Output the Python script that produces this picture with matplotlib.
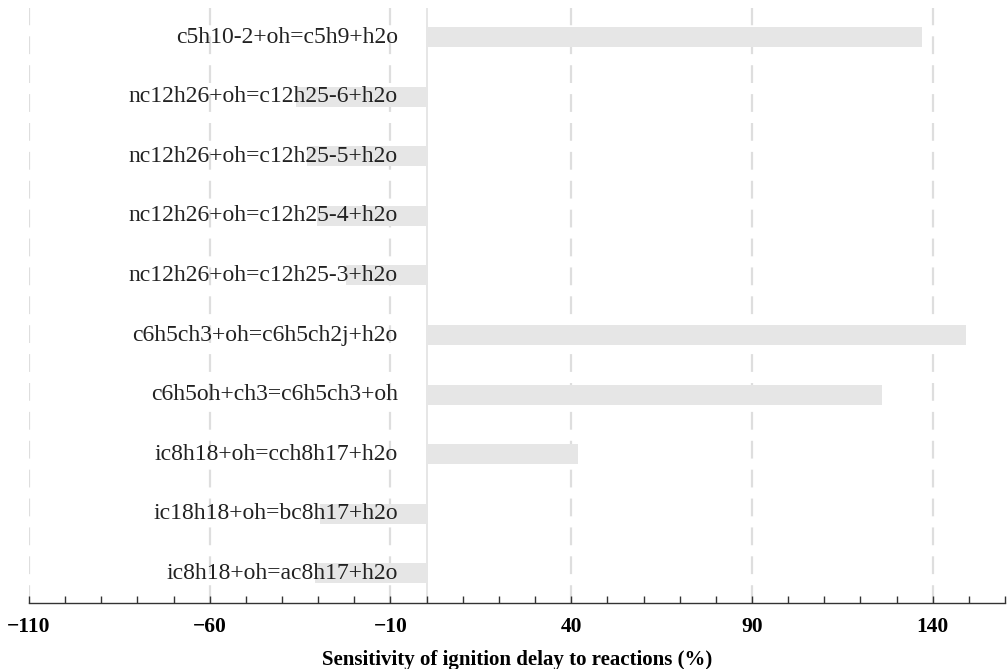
import matplotlib
matplotlib.use("Agg")
import matplotlib.pyplot as plt
import numpy as np

reactions = [
    "ic8h18+oh=ac8h17+h2o",
    "ic18h18+oh=bc8h17+h2o",
    "ic8h18+oh=cch8h17+h2o",
    "c6h5oh+ch3=c6h5ch3+oh",
    "c6h5ch3+oh=c6h5ch2j+h2o",
    "nc12h26+oh=c12h25-3+h2o",
    "nc12h26+oh=c12h25-4+h2o",
    "nc12h26+oh=c12h25-5+h2o",
    "nc12h26+oh=c12h25-6+h2o",
    "c5h10-2+oh=c5h9+h2o",
]
sensitivity = [-30.9, -29.5, 42.0, 126.0, 149.2, -22.3, -30.4, -33.2, -36.1, 137.1]
major_ticks = [-110, -60, -10, 40, 90, 140]
tick_labels = ["\u2212110", "\u221260", "\u221210", "40", "90", "140"]
xlabel = "Sensitivity of ignition delay to reactions (%)"

plt.rcParams['font.family'] = ['Liberation Serif', 'DejaVu Serif']

fig = plt.figure(figsize=(10.08, 6.69), dpi=100)
ax = fig.add_axes([0.0288, 0.0994, 0.9682, 0.8886])

y = np.arange(len(reactions))
ax.barh(y, sensitivity, height=0.336, color='#e6e6e6', zorder=1)

for xv in major_ticks:
    ax.axvline(xv, color='#dedede', lw=1.6, ls=(0, (8, 5)), zorder=0)
ax.axvline(0, color='#e2e2e2', lw=1.2, zorder=0.5)

for yi, lab in zip(y, reactions):
    ax.text(-8, yi, lab, ha='right', va='center', fontsize=17, color='#222222', zorder=3)

ax.set_xlim(-110, 160)
ax.set_ylim(-0.487, 9.487)
ax.set_xticks(major_ticks)
ax.set_xticklabels(tick_labels, fontsize=15.5, fontweight='bold')
ax.set_xticks(np.arange(-110, 161, 10), minor=True)
ax.tick_params(axis='x', which='both', direction='in', length=5, width=1, color='#333333', pad=10.5)
ax.set_yticks([])
for s in ['left', 'right', 'top']:
    ax.spines[s].set_visible(False)
ax.spines['bottom'].set_color('#333333')
ax.spines['bottom'].set_linewidth(1)
ax.set_xlabel(xlabel, fontsize=15, fontweight='bold', labelpad=9.5)

fig.savefig("out.png", dpi=100)
